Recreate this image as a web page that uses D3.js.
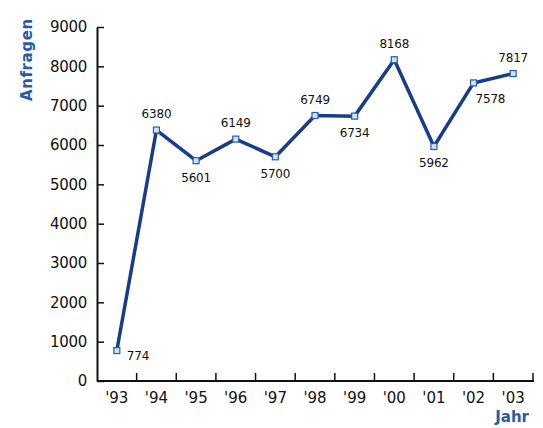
<!DOCTYPE html>
<html>
<head>
<meta charset="utf-8">
<script src="https://cdn.jsdelivr.net/npm/d3@7"></script>
<style>
  body { margin: 0; background: #fff; }
  svg text { font-family: "DejaVu Sans", Verdana, sans-serif; }
</style>
</head>
<body>
<div id="chart"></div>
<script>
// data
const years = ["'93", "'94", "'95", "'96", "'97", "'98", "'99", "'00", "'01", "'02", "'03"];
const requests = [774, 6380, 5601, 6149, 5700, 6749, 6734, 8168, 5962, 7578, 7817];
const labelSide = ["right", "above", "below", "above", "below", "above", "below", "above", "below", "belowright", "above"];
const yTicks = [0, 1000, 2000, 3000, 4000, 5000, 6000, 7000, 8000, 9000];

const W = 543, H = 428;
const plot = { left: 97, right: 534, top: 27, bottom: 381 };
const blue = "#183c8a";

const svg = d3.select("#chart").append("svg")
    .attr("width", W)
    .attr("height", H);

const x = d3.scaleBand().domain(years).range([plot.left, plot.right - 1]);
const y = d3.scaleLinear().domain([0, 9000]).range([plot.bottom, plot.top]);

// y axis, ticks point inward
const yAxis = svg.append("g")
    .attr("transform", `translate(${plot.left},0)`)
    .call(d3.axisRight(y).tickValues(yTicks).tickSize(7).tickSizeOuter(0).tickFormat(d3.format("d")));
yAxis.select(".domain").attr("stroke", "#111").attr("stroke-width", 2);
yAxis.selectAll(".tick line").attr("stroke", "#111").attr("stroke-width", 1.5);
yAxis.selectAll(".tick text")
    .attr("x", -10)
    .attr("text-anchor", "end")
    .attr("font-size", 15)
    .attr("letter-spacing", -0.3)
    .attr("fill", "#111");

// x axis, ticks at band edges pointing up
const xAxis = svg.append("g")
    .attr("transform", `translate(0,${plot.bottom})`);
xAxis.append("line")
    .attr("x1", plot.left).attr("x2", plot.right)
    .attr("stroke", "#111").attr("stroke-width", 2);
xAxis.selectAll(".xt")
    .data(years)
    .join("line")
    .attr("class", "xt")
    .attr("x1", d => x(d) + x.bandwidth())
    .attr("x2", d => x(d) + x.bandwidth())
    .attr("y1", 0).attr("y2", -8)
    .attr("stroke", "#111").attr("stroke-width", 1.5);
xAxis.selectAll(".xl")
    .data(years)
    .join("text")
    .attr("class", "xl")
    .attr("x", d => x(d) + x.bandwidth() / 2)
    .attr("y", 22)
    .attr("text-anchor", "middle")
    .attr("font-size", 15)
    .attr("fill", "#111")
    .text(d => d);

// axis titles
svg.append("text")
    .attr("transform", "translate(32,101) rotate(-90)")
    .attr("font-size", 15)
    .attr("font-weight", "bold")
    .attr("letter-spacing", 0.6)
    .attr("fill", "#2a5ba8")
    .text("Anfragen");

svg.append("text")
    .attr("x", 529)
    .attr("y", 422)
    .attr("text-anchor", "end")
    .attr("font-size", 15)
    .attr("font-weight", "bold")
    .attr("fill", "#2a5ba8")
    .text("Jahr");

// line
const line = d3.line()
    .x((d, i) => x(years[i]) + x.bandwidth() / 2)
    .y(d => y(d));

svg.append("path")
    .datum(requests)
    .attr("d", line)
    .attr("fill", "none")
    .attr("stroke", blue)
    .attr("stroke-width", 3.5)
    .attr("stroke-linejoin", "round");

// markers
svg.selectAll(".pt")
    .data(requests)
    .join("rect")
    .attr("class", "pt")
    .attr("x", (d, i) => x(years[i]) + x.bandwidth() / 2 - 3)
    .attr("y", d => y(d) - 3)
    .attr("width", 6)
    .attr("height", 6)
    .attr("fill", "#cfe3f7")
    .attr("stroke", "#2a5ba8")
    .attr("stroke-width", 1.2);

// value labels
const dx = { right: 10, belowright: 2, above: 0, below: 0 };
const dy = { right: 9, belowright: 20, above: -12, below: 21 };
svg.selectAll(".val")
    .data(requests)
    .join("text")
    .attr("class", "val")
    .attr("x", (d, i) => x(years[i]) + x.bandwidth() / 2 + dx[labelSide[i]])
    .attr("y", (d, i) => y(d) + dy[labelSide[i]])
    .attr("text-anchor", (d, i) => labelSide[i].includes("right") ? "start" : "middle")
    .attr("font-size", 12)
    .attr("letter-spacing", -0.2)
    .attr("fill", "#111")
    .text(d => d);
</script>
</body>
</html>
